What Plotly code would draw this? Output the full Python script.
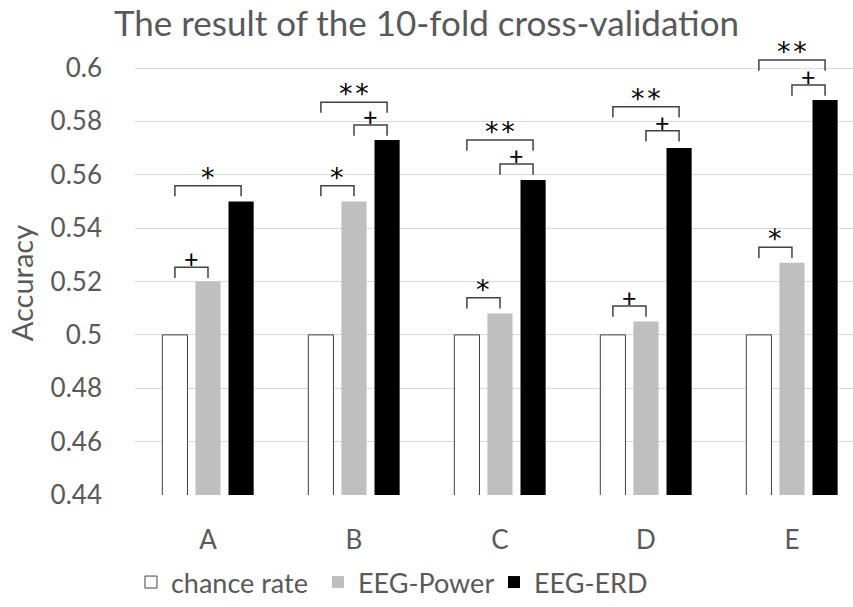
import plotly.graph_objects as go

categories = ["A", "B", "C", "D", "E"]
series_names = ["chance rate", "EEG-Power", "EEG-ERD"]
chance_rate = [0.5, 0.5, 0.5, 0.5, 0.5]
eeg_power = [0.52, 0.55, 0.508, 0.505, 0.527]
eeg_erd = [0.55, 0.573, 0.558, 0.57, 0.588]
y_ticks = [0.44, 0.46, 0.48, 0.5, 0.52, 0.54, 0.56, 0.58, 0.6]
y_tick_labels = ["0.44", "0.46", "0.48", "0.5", "0.52", "0.54", "0.56", "0.58", "0.6"]

# significance brackets: category index, from series, to series, bracket level, label
sig_category = [0, 0, 1, 1, 1, 2, 2, 2, 3, 3, 3, 4, 4, 4]
sig_from = [0, 0, 0, 1, 0, 0, 1, 0, 0, 1, 0, 0, 1, 0]
sig_to = [1, 2, 1, 2, 2, 1, 2, 2, 1, 2, 2, 1, 2, 2]
sig_level = [0.5253, 0.5559, 0.5559, 0.5786, 0.5872, 0.5139, 0.564, 0.573,
             0.5108, 0.5765, 0.5855, 0.5328, 0.5936, 0.603]
sig_label = ["+", "*", "*", "+", "**", "*", "+", "**", "+", "+", "**", "*", "+", "**"]

FONT = "Lato, Carlito, 'Open Sans', sans-serif"
TXT = "#595959"

bargap = 0.32
bargroupgap = 0.24
n_series = 3
slot = (1 - bargap) / n_series
offsets = [(k - (n_series - 1) / 2) * slot for k in range(n_series)]

legend_widths = [142, 131, 130]

fig = go.Figure()
fig.add_trace(go.Bar(x=categories, y=chance_rate, name=series_names[0], legendwidth=legend_widths[0],
                     marker=dict(color="white", line=dict(color="#404040", width=1))))
fig.add_trace(go.Bar(x=categories, y=eeg_power, name=series_names[1], legendwidth=legend_widths[1],
                     marker=dict(color="#BFBFBF", line=dict(width=0))))
fig.add_trace(go.Bar(x=categories, y=eeg_erd, name=series_names[2], legendwidth=legend_widths[2],
                     marker=dict(color="#000000", line=dict(width=0))))

tick = 0.004
for ci, fa, tb, lv, lb in zip(sig_category, sig_from, sig_to, sig_level, sig_label):
    x0 = ci + offsets[fa]
    x1 = ci + offsets[tb]
    fig.add_shape(type="path",
                  path=f"M {x0},{lv - tick} L {x0},{lv} L {x1},{lv} L {x1},{lv - tick}",
                  xref="x", yref="y", line=dict(color="#404040", width=1.5))
    if "*" in lb:
        fig.add_annotation(x=(x0 + x1) / 2, y=lv, xref="x", yref="y",
                           text="\u200a".join(lb), showarrow=False,
                           height=20, valign="top",
                           yanchor="bottom", yshift=2,
                           font=dict(family="DejaVu Sans", size=27, color="#000000"))
    else:
        fig.add_annotation(x=(x0 + x1) / 2, y=lv, xref="x", yref="y",
                           text=lb, showarrow=False, height=16, valign="middle",
                           yanchor="middle", yshift=9,
                           font=dict(family=FONT, size=25, color="#000000"))

# y-axis title
fig.add_annotation(text="Accuracy", xref="paper", yref="paper", x=-0.157, y=0.483,
                   xanchor="center", yanchor="middle", textangle=-90, showarrow=False,
                   font=dict(family=FONT, size=29, color=TXT))

fig.update_layout(
    width=853, height=607,
    margin=dict(l=135, r=0, t=56, b=112),
    paper_bgcolor="white", plot_bgcolor="white",
    barmode="group", bargap=bargap, bargroupgap=bargroupgap,
    title=dict(text="The result of the 10-fold cross-validation", x=0.5, xanchor="center",
               y=0.961, yanchor="middle",
               font=dict(family=FONT, size=35, color=TXT)),
    font=dict(family=FONT, size=26, color=TXT),
    showlegend=True,
    legend=dict(orientation="h", x=-0.0056, xanchor="left", y=-0.2, yanchor="middle",
                font=dict(family=FONT, size=27, color=TXT), itemwidth=30,
                entrywidthmode="pixels"),
    xaxis=dict(range=[-0.5, 4.418], showgrid=False, showline=False, ticks="",
               automargin=False,
               tickfont=dict(family=FONT, size=26, color=TXT), ticklabelstandoff=27),
    yaxis=dict(range=[0.44, 0.6045], tickvals=y_ticks, ticktext=y_tick_labels,
               automargin=False,
               showgrid=True, gridcolor="#D9D9D9", gridwidth=1, zeroline=False,
               showline=False, ticks="", ticklabelstandoff=32,
               tickfont=dict(family=FONT, size=26, color=TXT)),
)

fig.write_html("out.html", config={"displayModeBar": False},
               post_script="document.body.style.margin = '0px';")
